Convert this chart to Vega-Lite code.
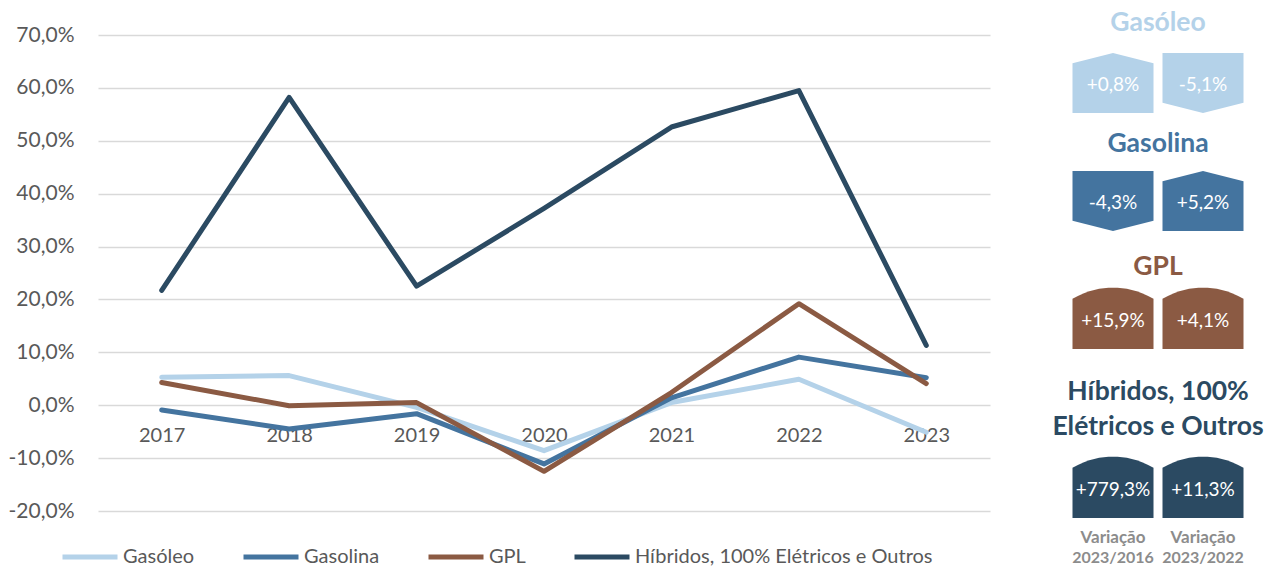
{
  "$schema": "https://vega.github.io/schema/vega-lite/v6.json",
  "padding": {"left": 8, "top": 10, "right": 0, "bottom": 0},
  "background": "white",
  "config": {
    "font": "Lato",
    "locale": {"number": {"decimal": ",", "thousands": ".", "grouping": [3], "currency": ["", " €"], "minus": "-"}},
    "view": {"stroke": null}
  },
  "datasets": {
    "lines": [
      {"fuel": "Gasóleo", "year": "2017", "value": 0.053},
      {"fuel": "Gasóleo", "year": "2018", "value": 0.056},
      {"fuel": "Gasóleo", "year": "2019", "value": -0.004},
      {"fuel": "Gasóleo", "year": "2020", "value": -0.086},
      {"fuel": "Gasóleo", "year": "2021", "value": 0.005},
      {"fuel": "Gasóleo", "year": "2022", "value": 0.049},
      {"fuel": "Gasóleo", "year": "2023", "value": -0.051},
      {"fuel": "Gasolina", "year": "2017", "value": -0.009},
      {"fuel": "Gasolina", "year": "2018", "value": -0.045},
      {"fuel": "Gasolina", "year": "2019", "value": -0.016},
      {"fuel": "Gasolina", "year": "2020", "value": -0.111},
      {"fuel": "Gasolina", "year": "2021", "value": 0.014},
      {"fuel": "Gasolina", "year": "2022", "value": 0.091},
      {"fuel": "Gasolina", "year": "2023", "value": 0.052},
      {"fuel": "GPL", "year": "2017", "value": 0.043},
      {"fuel": "GPL", "year": "2018", "value": -0.001},
      {"fuel": "GPL", "year": "2019", "value": 0.005},
      {"fuel": "GPL", "year": "2020", "value": -0.125},
      {"fuel": "GPL", "year": "2021", "value": 0.024},
      {"fuel": "GPL", "year": "2022", "value": 0.192},
      {"fuel": "GPL", "year": "2023", "value": 0.041},
      {"fuel": "Híbridos, 100% Elétricos e Outros", "year": "2017", "value": 0.217},
      {"fuel": "Híbridos, 100% Elétricos e Outros", "year": "2018", "value": 0.582},
      {"fuel": "Híbridos, 100% Elétricos e Outros", "year": "2019", "value": 0.225},
      {"fuel": "Híbridos, 100% Elétricos e Outros", "year": "2020", "value": 0.372},
      {"fuel": "Híbridos, 100% Elétricos e Outros", "year": "2021", "value": 0.526},
      {"fuel": "Híbridos, 100% Elétricos e Outros", "year": "2022", "value": 0.595},
      {"fuel": "Híbridos, 100% Elétricos e Outros", "year": "2023", "value": 0.113}
    ],
    "boxes": [
      {"fuel": "Gasóleo", "period": "2023/2016", "value": 0.008, "dir": "up"},
      {"fuel": "Gasóleo", "period": "2023/2022", "value": -0.051, "dir": "down"},
      {"fuel": "Gasolina", "period": "2023/2016", "value": -0.043, "dir": "down"},
      {"fuel": "Gasolina", "period": "2023/2022", "value": 0.052, "dir": "up"},
      {"fuel": "GPL", "period": "2023/2016", "value": 0.159, "dir": "up"},
      {"fuel": "GPL", "period": "2023/2022", "value": 0.041, "dir": "up"},
      {"fuel": "Híbridos, 100% Elétricos e Outros", "period": "2023/2016", "value": 7.793, "dir": "up"},
      {"fuel": "Híbridos, 100% Elétricos e Outros", "period": "2023/2022", "value": 0.113, "dir": "up"}
    ]
  },
  "bounds": "flush",
  "spacing": 78,
  "hconcat": [
    {
      "width": 892,
      "height": 476,
      "data": {"name": "lines"},
      "mark": {"type": "line", "strokeWidth": 5, "strokeCap": "round", "strokeJoin": "round"},
      "encoding": {
        "x": {
          "field": "year", "type": "ordinal",
          "scale": {"type": "point", "padding": 0.5},
          "axis": {"title": null, "orient": "bottom", "offset": -106, "domain": false, "ticks": false, "tickSize": 0, "grid": false, "labelAngle": 0, "labelFontSize": 20, "labelColor": "#595959", "labelPadding": 20}
        },
        "y": {
          "field": "value", "type": "quantitative",
          "scale": {"domain": [-0.2, 0.7], "nice": false, "zero": false},
          "axis": {"title": null, "format": ".1%", "values": [-0.2, -0.1, 0, 0.1, 0.2, 0.3, 0.4, 0.5, 0.6, 0.7], "domain": false, "ticks": false, "tickSize": 0, "labelFontSize": 21, "labelColor": "#595959", "labelPadding": 24, "gridColor": "#D9D9D9", "gridWidth": 1.5}
        },
        "color": {
          "field": "fuel", "type": "nominal",
          "scale": {"domain": ["Gasóleo", "Gasolina", "GPL", "Híbridos, 100% Elétricos e Outros"], "range": ["#B4D2E9", "#44749F", "#8B5A43", "#2B4A62"]},
          "legend": {"title": null, "orient": "none", "legendX": -38, "legendY": 492, "direction": "horizontal", "symbolType": "stroke", "symbolStrokeWidth": 5, "symbolSize": 3025, "labelFontSize": 20, "labelColor": "#595959", "labelLimit": 500, "columnPadding": 38, "labelOffset": 3}
        }
      }
    },
    {
      "bounds": "flush",
      "spacing": 0,
      "vconcat": [
        {
          "width": 180, "height": 96,
          "data": {"name": "boxes"},
          "transform": [{"filter": "datum.fuel === 'Gasóleo'"}],
          "layer": [
            {
              "mark": {"type": "point", "filled": true, "opacity": 1, "size": 6561, "color": "#B4D2E9"},
              "encoding": {
                "x": {"field": "period", "type": "nominal", "scale": {"type": "point", "padding": 0.5, "domain": ["2023/2016", "2023/2022"]}, "axis": null},
                "shape": {"field": "dir", "type": "nominal", "scale": {"domain": ["up", "down"], "range": ["M-1,-0.49L0,-0.74L1,-0.49L1,0.74L-1,0.74Z", "M-1,-0.74L1,-0.74L1,0.49L0,0.74L-1,0.49Z"]}, "legend": null}
              }
            },
            {
              "mark": {"type": "text", "color": "white", "fontSize": 19, "dy": 2},
              "encoding": {
                "x": {"field": "period", "type": "nominal", "scale": {"type": "point", "padding": 0.5, "domain": ["2023/2016", "2023/2022"]}, "axis": null},
                "text": {"field": "value", "type": "quantitative", "format": "+.1%"}
              }
            },
            {
              "transform": [{"filter": "datum.period === '2023/2016'"}],
              "mark": {"type": "text", "color": "#B4D2E9", "fontSize": 26.5, "fontWeight": "bold", "dy": -60},
              "encoding": {"text": {"field": "fuel"}}
            }
          ]
        },
        {
          "width": 180, "height": 140,
          "data": {"name": "boxes"},
          "transform": [{"filter": "datum.fuel === 'Gasolina'"}],
          "layer": [
            {
              "mark": {"type": "point", "filled": true, "opacity": 1, "size": 6561, "color": "#44749F"},
              "encoding": {
                "x": {"field": "period", "type": "nominal", "scale": {"type": "point", "padding": 0.5, "domain": ["2023/2016", "2023/2022"]}, "axis": null},
                "shape": {"field": "dir", "type": "nominal", "scale": {"domain": ["up", "down"], "range": ["M-1,-0.49L0,-0.74L1,-0.49L1,0.74L-1,0.74Z", "M-1,-0.74L1,-0.74L1,0.49L0,0.74L-1,0.49Z"]}, "legend": null}
              }
            },
            {
              "mark": {"type": "text", "color": "white", "fontSize": 19, "dy": 2},
              "encoding": {
                "x": {"field": "period", "type": "nominal", "scale": {"type": "point", "padding": 0.5, "domain": ["2023/2016", "2023/2022"]}, "axis": null},
                "text": {"field": "value", "type": "quantitative", "format": "+.1%"}
              }
            },
            {
              "transform": [{"filter": "datum.period === '2023/2016'"}],
              "mark": {"type": "text", "color": "#44749F", "fontSize": 26.5, "fontWeight": "bold", "dy": -57},
              "encoding": {"text": {"field": "fuel"}}
            }
          ]
        },
        {
          "width": 180, "height": 96,
          "data": {"name": "boxes"},
          "transform": [{"filter": "datum.fuel === 'GPL'"}],
          "layer": [
            {
              "mark": {"type": "point", "filled": true, "opacity": 1, "size": 6561, "color": "#8B5A43", "shape": "M-1,-0.5C-0.6,-0.72 -0.3,-0.77 0,-0.77C0.3,-0.77 0.6,-0.72 1,-0.5L1,0.74L-1,0.74Z"},
              "encoding": {
                "x": {"field": "period", "type": "nominal", "scale": {"type": "point", "padding": 0.5, "domain": ["2023/2016", "2023/2022"]}, "axis": null}
              }
            },
            {
              "mark": {"type": "text", "color": "white", "fontSize": 19, "dy": 2},
              "encoding": {
                "x": {"field": "period", "type": "nominal", "scale": {"type": "point", "padding": 0.5, "domain": ["2023/2016", "2023/2022"]}, "axis": null},
                "text": {"field": "value", "type": "quantitative", "format": "+.1%"}
              }
            },
            {
              "transform": [{"filter": "datum.period === '2023/2016'"}],
              "mark": {"type": "text", "color": "#8B5A43", "fontSize": 26.5, "fontWeight": "bold", "dy": -52},
              "encoding": {"text": {"field": "fuel"}}
            }
          ]
        },
        {
          "width": 180, "height": 194,
          "data": {"name": "boxes"},
          "transform": [{"filter": "datum.fuel === 'Híbridos, 100% Elétricos e Outros'"}],
          "layer": [
            {
              "mark": {"type": "point", "filled": true, "opacity": 1, "size": 6561, "color": "#2B4A62", "yOffset": 24, "shape": "M-1,-0.5C-0.6,-0.72 -0.3,-0.77 0,-0.77C0.3,-0.77 0.6,-0.72 1,-0.5L1,0.74L-1,0.74Z"},
              "encoding": {
                "x": {"field": "period", "type": "nominal", "scale": {"type": "point", "padding": 0.5, "domain": ["2023/2016", "2023/2022"]}, "axis": null}
              }
            },
            {
              "mark": {"type": "text", "color": "white", "fontSize": 19, "dy": 26},
              "encoding": {
                "x": {"field": "period", "type": "nominal", "scale": {"type": "point", "padding": 0.5, "domain": ["2023/2016", "2023/2022"]}, "axis": null},
                "text": {"field": "value", "type": "quantitative", "format": "+.1%"}
              }
            },
            {
              "transform": [{"filter": "datum.period === '2023/2016'"}],
              "mark": {"type": "text", "color": "#2B4A62", "fontSize": 26.5, "fontWeight": "bold", "dy": -72, "lineHeight": 35},
              "encoding": {"text": {"value": ["Híbridos, 100%", "Elétricos e Outros"]}}
            },
            {
              "mark": {"type": "text", "color": "#8C8C8C", "fontSize": 17, "fontWeight": "bold", "dy": 74},
              "encoding": {
                "x": {"field": "period", "type": "nominal", "scale": {"type": "point", "padding": 0.5, "domain": ["2023/2016", "2023/2022"]}, "axis": null},
                "text": {"value": "Variação"}
              }
            },
            {
              "mark": {"type": "text", "color": "#8C8C8C", "fontSize": 16, "fontWeight": "bold", "dy": 94},
              "encoding": {
                "x": {"field": "period", "type": "nominal", "scale": {"type": "point", "padding": 0.5, "domain": ["2023/2016", "2023/2022"]}, "axis": null},
                "text": {"field": "period"}
              }
            }
          ]
        }
      ]
    }
  ]
}
